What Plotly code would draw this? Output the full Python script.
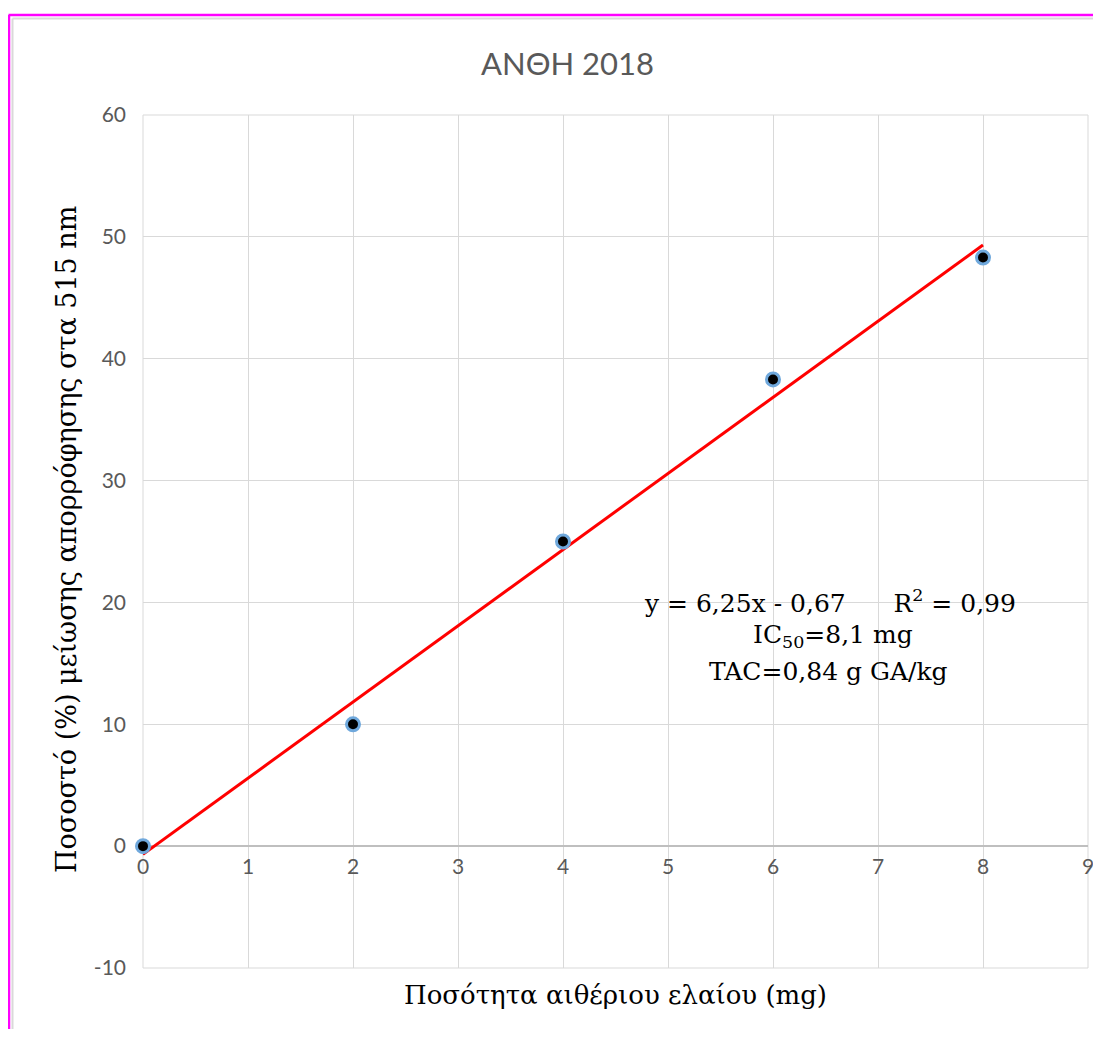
import plotly.graph_objects as go

# Data
x_vals = [0, 2, 4, 6, 8]
y_vals = [0, 10, 25, 38.3, 48.3]
slope = 6.25
intercept = -0.67
trend_x = [0, 8]
trend_y = [slope * v + intercept for v in trend_x]

y_tick_vals = [-10, 0, 10, 20, 30, 40, 50, 60]
y_tick_text = ["-10", "0", "10", "20", "30", "40", "50", "60"]

title_text = "ΑΝΘΗ 2018"
x_title = "Ποσότητα αιθέριου ελαίου (mg)"
y_title = "Ποσοστό (%) μείωσης απορρόφησης στα 515 nm"
eq_lines = ["y = 6,25x - 0,67      R<sup>2</sup> = 0,99",
            "IC<sub>50</sub>=8,1 mg",
            "TAC=0,84 g GA/kg"]

OFF = 8  # page body margin
W, H = 1101 - 2 * OFF, 1037 - 2 * OFF
L = 143 - OFF
R = W - (1088 - OFF)
T = 115 - OFF
B = H - (968 - OFF)
pw = W - L - R
ph = H - T - B


def px(xs):
    return (xs - OFF - L) / pw


def py(ys):
    return (H - B - (ys - OFF)) / ph


fig = go.Figure()
fig.add_trace(go.Scatter(x=trend_x, y=trend_y, mode="lines",
                         line=dict(color="#FF0000", width=3), showlegend=False,
                         hoverinfo="skip", cliponaxis=False))
fig.add_trace(go.Scatter(x=x_vals, y=y_vals, mode="markers",
                         marker=dict(color="black", size=13,
                                     line=dict(color="#6FA8DC", width=3)),
                         showlegend=False, cliponaxis=False))

tick_font = dict(family="Lato, Liberation Sans, sans-serif", size=21, color="#595959")
serif = "DejaVu Serif, Liberation Serif, serif"

fig.update_layout(
    width=W, height=H,
    margin=dict(l=L, r=R, t=T, b=B, autoexpand=False),
    paper_bgcolor="white", plot_bgcolor="white",
    xaxis=dict(range=[0, 9], dtick=1, showgrid=True, gridcolor="#D9D9D9",
               gridwidth=1, zeroline=False, showline=False, ticks="",
               tickfont=tick_font, anchor="free", position=10 / 70,
               ticklabelstandoff=6, ticklabeloverflow="allow", automargin=False),
    yaxis=dict(range=[-10, 60], tickvals=y_tick_vals, ticktext=y_tick_text,
               showgrid=True, gridcolor="#D9D9D9",
               gridwidth=1, zeroline=True, zerolinecolor="#BFBFBF",
               zerolinewidth=1.5, showline=False, ticks="", tickfont=tick_font,
               ticklabelstandoff=16, automargin=False),
)

# plot border
fig.add_shape(type="rect", xref="paper", yref="paper", x0=0, x1=1, y0=0, y1=1,
              line=dict(color="#D9D9D9", width=1), layer="below")

# outer chart borders
fig.add_shape(type="line", xref="paper", yref="paper", x0=px(12.5), x1=px(1110),
              y0=py(18.5), y1=py(18.5), line=dict(color="#D9D9D9", width=2))
fig.add_shape(type="line", xref="paper", yref="paper", x0=px(12.5), x1=px(12.5),
              y0=py(18.5), y1=py(1045), line=dict(color="#D9D9D9", width=2))
fig.add_shape(type="line", xref="paper", yref="paper", x0=px(8.5), x1=px(1110),
              y0=py(15), y1=py(15), line=dict(color="#FF00FF", width=2.5))
fig.add_shape(type="line", xref="paper", yref="paper", x0=px(9), x1=px(9),
              y0=py(15), y1=py(1045), line=dict(color="#FF00FF", width=2.5))

fig.add_annotation(text=title_text, xref="paper", yref="paper", x=px(567), y=py(63),
                   showarrow=False, xanchor="center", yanchor="middle",
                   font=dict(family="Lato, Liberation Sans, sans-serif", size=31, color="#595959"))
fig.add_annotation(text=x_title, xref="paper", yref="paper", x=px(615), y=py(995),
                   showarrow=False, xanchor="center", yanchor="middle",
                   font=dict(family=serif, size=26, color="black"))
fig.add_annotation(text=y_title, xref="paper", yref="paper", x=px(66), y=py(540),
                   showarrow=False, xanchor="center", yanchor="middle", textangle=-90,
                   font=dict(family=serif, size=27, color="black"))

for line_text, cx, cy in zip(eq_lines, [830, 833, 828], [601, 636, 671]):
    fig.add_annotation(text=line_text, xref="paper", yref="paper", x=px(cx), y=py(cy),
                       showarrow=False, xanchor="center", yanchor="middle",
                       font=dict(family=serif, size=25, color="black"))

fig.write_html("out.html")
